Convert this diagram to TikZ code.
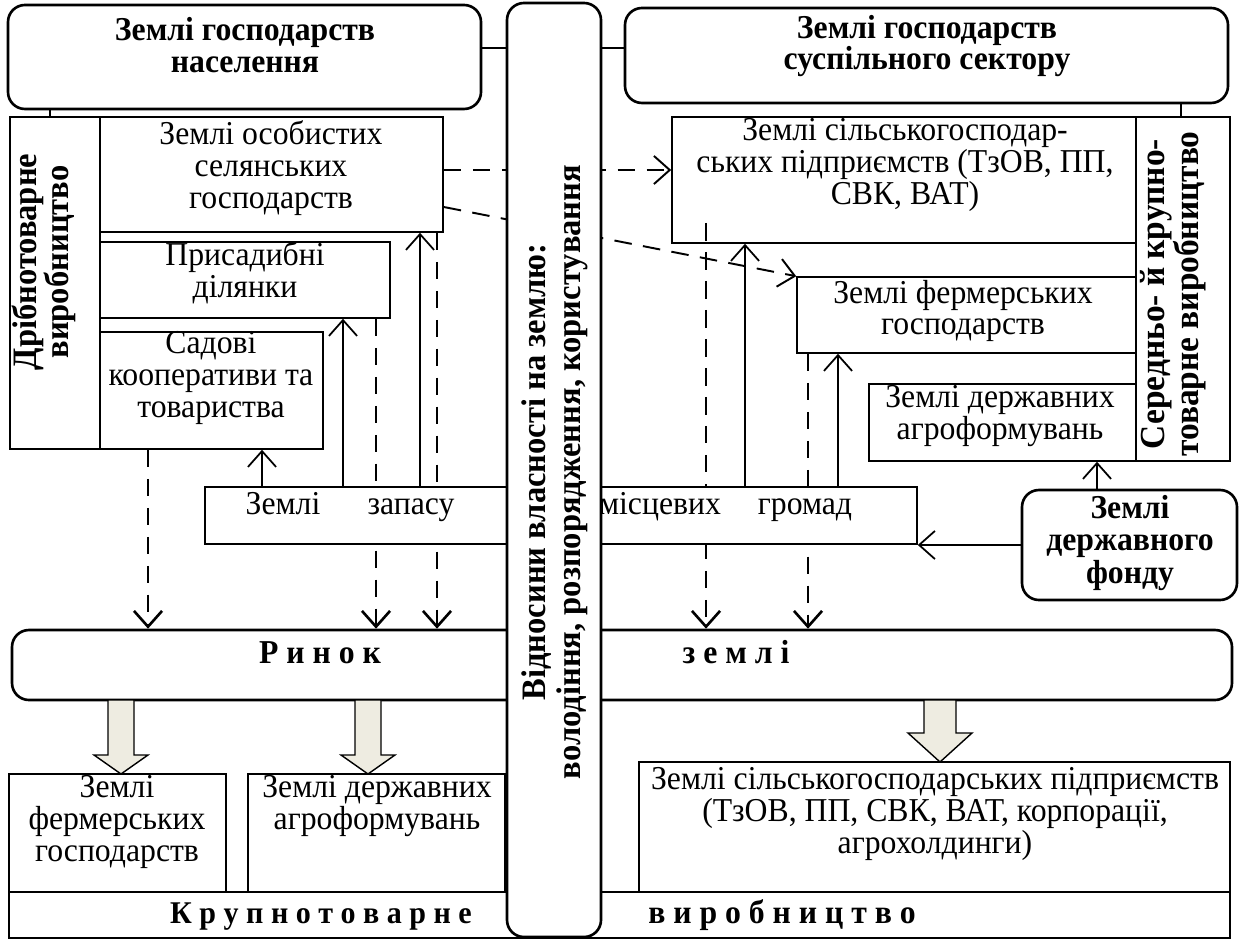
\documentclass[tikz,border=0pt]{standalone}
\usepackage{fontspec}
\setmainfont[FakeStretch=0.95]{Liberation Serif}
\usetikzlibrary{arrows.meta,fit}
\definecolor{beige}{HTML}{EEECE1}
\begin{document}
\begin{tikzpicture}[x=0.02cm,y=-0.02cm,
  font=\fontsize{19}{18}\selectfont,
  box/.style={draw,line width=0.9pt,inner sep=0pt,fill=white},
  rbox/.style={draw,line width=1.5pt,rounded corners=0.34cm,inner sep=0pt,fill=white},
  txt/.style={align=center,inner sep=0pt},
  bt/.style={align=center,inner sep=0pt,font=\fontsize{19}{18}\selectfont\bfseries},
  dsh/.style={line width=1.5pt,dash pattern=on 10pt off 6.5pt},
  ddsh/.style={line width=1.1pt,dash pattern=on 10pt off 6.5pt},
  arr/.style={-{Straight Barb[length=9pt,width=16pt]}},
  sol/.style={line width=1pt},
  barrow/.style={draw,line width=0.8pt,fill=beige}]
\useasboundingbox (0,0) rectangle (1241,939);

% top boxes
\node[rbox, fit={(8,5)(481,109)}] (nas) {};
\node[bt] (nast) at (245,45) {Землі господарств\\населення};
\node[rbox, fit={(625,8)(1228,103)}] (susp) {};
\node[bt] (suspt) at (927,46) {Землі господарств\\суспільного сектору};

% left group
\node[box, fit={(10,117)(100,449)}] (small) {};
\node[bt, rotate=90, font=\fontsize{19.5}{18.5}\selectfont\bfseries] (smallt) at (44,262) {Дрібнотоварне\\виробництво};
\node[box, fit={(100,117)(443,232)}] (osob) {};
\node[txt] (osobt) at (271,168) {Землі особистих\\селянських\\господарств};
\node[box, fit={(100,242)(390,318)}] (pris) {};
\node[txt] (prist) at (245,273) {Присадибні\\ділянки};
\node[box, fit={(100,332)(323,449)}] (sad) {};
\node[txt] (sadt) at (211,378) {Садові\\кооперативи та\\товариства};

% right group
\node[box, fit={(672,117)(1136,243)}] (sg) {};
\node[txt] (sgt) at (905,165) {Землі сільськогосподар-\\ських підприємств (ТзОВ, ПП,\\СВК, ВАТ)};
\node[box, fit={(1136,117)(1230,461)}] (mid) {};
\node[bt, rotate=90, font=\fontsize{20}{18}\selectfont\bfseries] (midt) at (1173,294) {Середньо- й крупно-\\товарне виробництво};
\node[box, fit={(797,277)(1136,353)}] (ferm) {};
\node[txt] (fermt) at (963,311) {Землі фермерських\\господарств};
\node[box, fit={(869,384)(1136,461)}] (derzh) {};
\node[txt] (derzht) at (1000,416) {Землі державних\\агроформувань};

\draw[sol] (nas.south -| 50,0) -- (small.north -| 50,0);
\draw[sol] (susp.south -| 1181,0) -- (mid.north -| 1181,0);

% market
\node[rbox, fit={(12,630)(1232,700)}] (rynok) {};
\node[bt, anchor=base] (ryn1) at (320,663) {Р и н о к};
\node[bt, anchor=base] (ryn2) at (736,663) {з е м л і};

% dashed flows to the market (pass behind the reserve box)
\draw[dsh,arr] (sad.south -| 148,0) -- (rynok.north -| 148,0);
\draw[dsh,arr] (pris.south -| 376,0) -- (rynok.north -| 376,0);
\draw[dsh,arr] (osob.south -| 437,0) -- (rynok.north -| 437,0);
\draw[dsh,arr] (706,223) -- (rynok.north -| 706,0);
\draw[dsh,arr] (ferm.south -| 808,0) -- (rynok.north -| 808,0);

% reserve lands
\node[box, fit={(205,487)(917,544)}] (zap) {};
\node[txt, anchor=base] (zap1) at (283,514) {Землі};
\node[txt, anchor=base] (zap2) at (411,514) {запасу};
\node[txt, anchor=base] (zap3) at (660,514) {місцевих};
\node[txt, anchor=base] (zap4) at (805,514) {громад};

\node[rbox, fit={(1022,490)(1237,600)}] (fond) {};
\node[bt, font=\fontsize{19}{18.5}\selectfont\bfseries] (fondt) at (1130,543) {Землі\\державного\\фонду};

% bottom
\node[box, fit={(9,774)(226,892)}] (bf) {};
\node[txt] (bft) at (117,822) {Землі\\фермерських\\господарств};
\node[box, fit={(248,774)(505,892)}] (bd) {};
\node[txt] (bdt) at (377,806) {Землі державних\\агроформувань};
\node[box, fit={(639,762)(1230,892)}] (bs) {};
\node[txt] (bst) at (935,814) {Землі сільськогосподарських підприємств\\(ТзОВ, ПП, СВК, ВАТ, корпорації,\\агрохолдинги)};
\node[box, fit={(9,892)(1230,938)}] (kr) {};
\node[bt, anchor=base, font=\fontsize{18}{17}\selectfont\bfseries] (kr1) at (321,923) {К р у п н о т о в а р н е};
\node[bt, anchor=base] (kr2) at (782,923) {в и р о б н и ц т в о};

% other connectors
\draw[ddsh,arr] (osob.east |- 0,170) -- (sg.west |- 0,170);
\draw[ddsh,arr] (osob.east |- 0,207) -- (ferm.north west);
\draw[sol,arr] (zap.north -| 262,0) -- (sad.south -| 262,0);
\draw[sol,arr] (zap.north -| 343,0) -- (pris.south -| 343,0);
\draw[sol,arr] (zap.north -| 420,0) -- (osob.south -| 420,0);
\draw[sol,arr] (zap.north -| 745,0) -- (sg.south -| 745,0);
\draw[sol,arr] (zap.north -| 838,0) -- (ferm.south -| 838,0);
\draw[sol,arr] (fond.north -| 1097,0) -- (derzh.south -| 1097,0);
\draw[sol,arr] (fond.west) -- (zap.east |- fond.west);

% block arrows
\draw[barrow] (108,700) -- (134,700) -- (134,755) -- (148,755) -- (121,774) -- (94,755) -- (108,755) -- cycle;
\draw[barrow] (355,700) -- (381,700) -- (381,755) -- (395,755) -- (368,774) -- (341,755) -- (355,755) -- cycle;
\draw[barrow] (924,700) -- (956,700) -- (956,733) -- (972,733) -- (940,762) -- (908,733) -- (924,733) -- cycle;

% central band
\node[rbox, fit={(507,3)(601,937)}] (band) {};
\node[bt, rotate=90, font=\fontsize{19.5}{19.8}\selectfont\bfseries] (bandt) at (555,472) {Відносини власності на землю:\\володіння, розпорядження, користування};
\draw[sol] (nas.east |- 0,48) -- (band.west |- 0,48);
\draw[sol] (band.east |- 0,48) -- (susp.west |- 0,48);
\end{tikzpicture}
\end{document}
